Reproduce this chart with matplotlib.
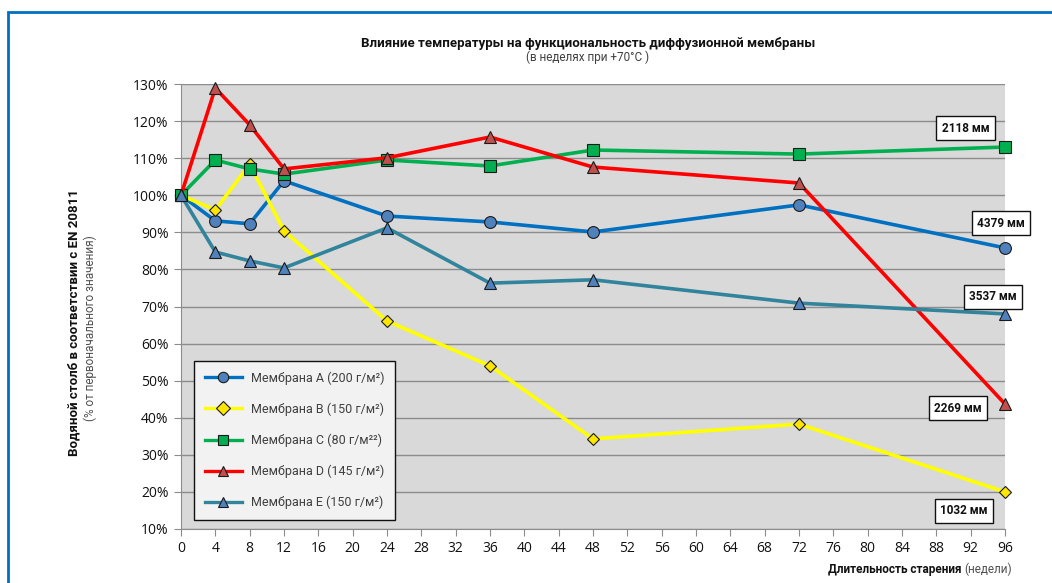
import matplotlib.pyplot as plt
from matplotlib.patches import Rectangle
from matplotlib.ticker import FuncFormatter, MultipleLocator

plt.rcParams["font.family"] = ["Roboto", "DejaVu Sans"]

weeks = [0, 4, 8, 12, 24, 36, 48, 72, 96]
membrane_a = [100, 93.1, 92.3, 103.9, 94.4, 92.8, 90.1, 97.4, 85.8]
membrane_b = [100, 96.0, 108.4, 90.4, 66.1, 54.0, 34.3, 38.3, 20.0]
membrane_c = [100, 109.5, 107.1, 105.7, 109.5, 107.9, 112.2, 111.1, 113.0]
membrane_d = [100, 128.9, 119.0, 107.1, 110.1, 115.7, 107.6, 103.3, 43.7]
membrane_e = [100, 84.7, 82.3, 80.4, 91.2, 76.3, 77.2, 70.9, 68.0]

labels = [
    "Мембрана A (200 г/м²)",
    "Мембрана B (150 г/м²)",
    "Мембрана C (80 г/м²²)",
    "Мембрана D (145 г/м²)",
    "Мембрана E (150 г/м²)",
]

# final water column values shown next to the last points
final_mm = ["4379 мм", "1032 мм", "2118 мм", "2269 мм", "3537 мм"]
box_pos = [(95.5, 92.5), (91.2, 14.9), (91.4, 118.1), (90.5, 42.6), (94.6, 72.6)]

styles = [
    dict(color="#0070C0", marker="o", mfc="#4F81BD", ms=8.5),
    dict(color="#FFFF00", marker="D", mfc="#FFE600", ms=6),
    dict(color="#00B050", marker="s", mfc="#00B050", ms=8),
    dict(color="#FF0000", marker="^", mfc="#C0504D", ms=8.5),
    dict(color="#31849B", marker="^", mfc="#4F81BD", ms=8.5),
]

fig = plt.figure(figsize=(10.52, 5.83), dpi=100)
ax = fig.add_axes([181 / 1052, 1 - 529 / 583, 824 / 1052, 445 / 583])
ax.set_facecolor("#D9D9D9")

series = [membrane_a, membrane_b, membrane_c, membrane_d, membrane_e]
for values, label, st in zip(series, labels, styles):
    ax.plot(weeks, values, color=st["color"], lw=2.6, marker=st["marker"],
            ms=st["ms"], mfc=st["mfc"], mec="#1a1a1a", mew=0.8,
            label=label, clip_on=False, zorder=3)

for text, (x, y) in zip(final_mm, box_pos):
    ax.text(x, y, text, ha="center", va="center", fontsize=8.5, fontweight="bold",
            color="#111111", clip_on=False, zorder=5,
            bbox=dict(boxstyle="square,pad=0.45", fc="white", ec="#111111", lw=1.0))

ax.set_xlim(0, 96)
ax.set_ylim(10, 130)
ax.xaxis.set_major_locator(MultipleLocator(4))
ax.yaxis.set_major_locator(MultipleLocator(10))
ax.yaxis.set_major_formatter(FuncFormatter(lambda v, _: f"{v:.0f}%"))
ax.grid(axis="y", color="#8C8C8C", lw=1.0)
ax.set_axisbelow(True)
for side in ["top", "right"]:
    ax.spines[side].set_visible(False)
for side in ["left", "bottom"]:
    ax.spines[side].set_color("#8C8C8C")
ax.tick_params(axis="both", colors="#8C8C8C", labelcolor="#111111",
               labelsize=10, length=5, direction="out")
ax.tick_params(axis="y", pad=4)
for lbl in ax.get_xticklabels() + ax.get_yticklabels():
    lbl.set_fontfamily(["Open Sans", "DejaVu Sans"])

leg = ax.legend(loc="lower left", bbox_to_anchor=(13 / 824, 9 / 445), fontsize=9,
                frameon=True, fancybox=False, edgecolor="#111111",
                facecolor="#F2F2F2", framealpha=1, handlelength=3.0,
                labelspacing=1.42, borderpad=0.85, handletextpad=0.7,
                borderaxespad=0)
leg.get_frame().set_linewidth(1.0)
for txt in leg.get_texts():
    txt.set_color("#404040")
for h in leg.legend_handles:
    h.set_linewidth(2.4)
    h.set_markersize(7.5)

fig.text(588 / 1052, 1 - 43 / 583,
         "Влияние температуры на функциональность диффузионной мембраны",
         ha="center", va="center", fontsize=9.5, fontweight="bold", color="#111111")
fig.text(588 / 1052, 1 - 57 / 583, "(в неделях при +70°C )",
         ha="center", va="center", fontsize=8.5, color="#404040")

fig.text(74 / 1052, 1 - 323 / 583, "Водяной столб в соответствии с EN 20811",
         ha="center", va="center", rotation=90, fontsize=9.5, fontweight="bold",
         color="#111111")
fig.text(90 / 1052, 1 - 328 / 583, "(% от первоначального значения)",
         ha="center", va="center", rotation=90, fontsize=8.5, color="#505050")

units = fig.text(1012 / 1052, 1 - 569 / 583, "(недели)", ha="right", va="center",
                 fontsize=8.5, color="#505050")
fig.canvas.draw()
left_px = units.get_window_extent().x0
fig.text((left_px - 3) / 1052, 1 - 569 / 583, "Длительность старения",
         ha="right", va="center", fontsize=8.5, fontweight="bold", color="#111111")

# outer frame
fig.patches.append(Rectangle((8 / 1052, -0.1), 1.2, 1 - 12 / 583 + 0.1,
                             transform=fig.transFigure, fill=False,
                             ec="#0070C0", lw=2.0))

fig.savefig("out.png", dpi=100)
